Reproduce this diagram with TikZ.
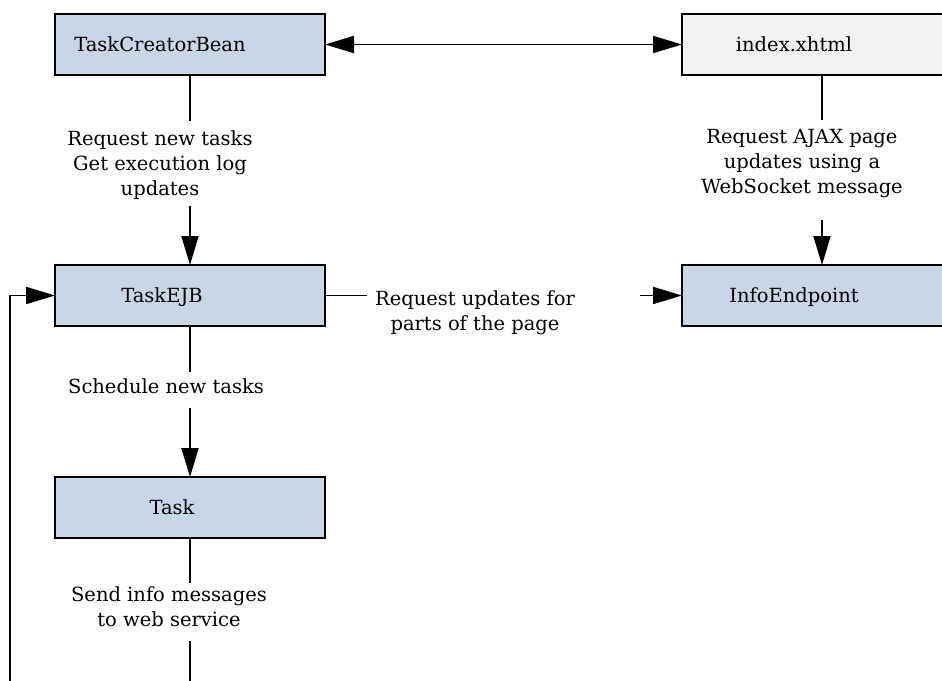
\documentclass[tikz,border=0pt]{standalone}
\usepackage{fontspec}
\setmainfont{DejaVu Serif}
\usetikzlibrary{arrows.meta}
\definecolor{boxblue}{RGB}{201,214,229}
\definecolor{boxgray}{RGB}{242,242,242}
\begin{document}
\begin{tikzpicture}[x=1pt,y=-1pt,
  font=\fontsize{19.5}{25}\selectfont,
  line width=1.9pt,
  box/.style={draw=black, line width=1.9pt, minimum height=61pt, inner sep=0pt, outer sep=0pt,
    text height=14.8pt, text depth=0pt, anchor=north west},
  bluebox/.style={box, fill=boxblue, minimum width=270pt},
  bluewide/.style={box, fill=boxblue, minimum width=280pt},
  graybox/.style={box, fill=boxgray, minimum width=280pt},
  lbl/.style={align=center, inner sep=0pt},
  arr/.style={-{Triangle[length=29pt,width=17pt]}},
  darr/.style={{Triangle[length=29pt,width=17pt]}-{Triangle[length=29pt,width=17pt]}}]
\useasboundingbox (0,0) rectangle (942,680);
\fill[white] (0,0) rectangle (942,680);
\clip (0,0) rectangle (942,680);

% boxes
\node[bluebox] (tcb) at (55,14) {TaskCreatorBean\hspace*{60pt}};
\node[graybox] (idx) at (682,14) {index.xhtml\hspace*{56pt}};
\node[bluebox] (ejb) at (55,265) {TaskEJB\hspace*{56pt}};
\node[bluewide] (info) at (682,265) {InfoEndpoint\hspace*{56pt}};
\node[bluebox] (task) at (55,477) {Task\hspace*{36pt}};

% labels
\node[lbl] (l1) at (160,165) {Request new tasks\\Get execution log\\updates};
\node[lbl] (l2) at (802,164) {Request AJAX page\\updates using a\\WebSocket message};
\node[lbl,anchor=base] (l3) at (166,393) {Schedule new tasks};
\node[lbl] (l4) at (475,312.4) {Request updates for\\parts of the page};
\node[lbl] (l5) at (169,607) {Send info messages\\to web service};

% connector ends
\coordinate (a1) at (190,121);
\coordinate (a2) at (190,206);
\coordinate (b1) at (822,120);
\coordinate (b2) at (822,220);
\coordinate (c1) at (367,295.5);
\coordinate (c2) at (640,295.5);
\coordinate (d1) at (190,372);
\coordinate (d2) at (190,408);
\coordinate (e1) at (190,583);
\coordinate (e2) at (190,641);
\coordinate (e3) at (190,700);
\coordinate (f1) at (10,700);

% connectors
\draw[darr] (tcb.east) -- (idx.west);
\draw (tcb.south) -- (a1);
\draw[arr] (a2) -- (ejb.north);
\draw (idx.south) -- (b1);
\draw[arr] (b2) -- (info.north);
\draw (ejb.east) -- (c1);
\draw[arr] (c2) -- (info.west);
\draw (ejb.south) -- (d1);
\draw[arr] (d2) -- (task.north);
\draw (task.south) -- (e1);
\draw (e2) -- (e3);
\draw[arr] (f1) |- (ejb.west);
\end{tikzpicture}
\end{document}
